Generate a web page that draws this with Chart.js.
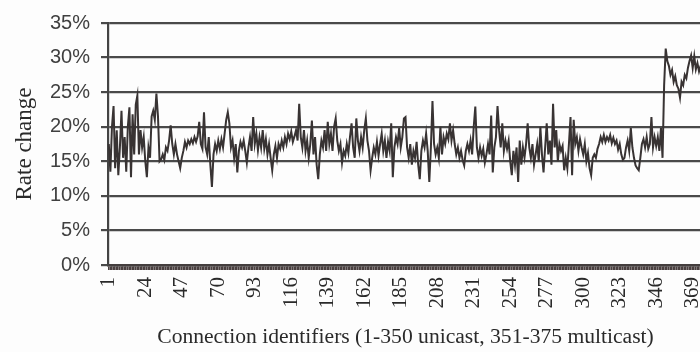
<!DOCTYPE html>
<html>
<head>
<meta charset="utf-8">
<script src="https://cdn.jsdelivr.net/npm/chart.js@4.4.1/dist/chart.umd.min.js"></script>
<style>
  html, body { margin: 0; padding: 0; width: 700px; height: 352px; overflow: hidden; background: #fdfdfd; }
  #wrap { position: relative; width: 706px; height: 352px; }
</style>
</head>
<body>
<div id="wrap"><canvas id="c"></canvas></div>
<script>
// Connection identifiers 1..375 (1-350 unicast, 351-375 multicast)
const categories = Array.from({ length: 375 }, (_, i) => String(i + 1));

// Rate change (%) per connection
const rateChange = [
  17.5, 13.5, 20, 23, 14, 19.5, 13, 17, 22.3, 15.5,
  18.5, 13.5, 20, 22.8, 12.7, 21.8, 16, 23.2, 24.5, 16,
  19.5, 17, 18.5, 15, 12.7, 17, 15.5, 21.5, 22.3, 21,
  24.8, 21.5, 15, 15.3, 16, 15.2, 17, 16.5, 18, 20.2,
  17.5, 16, 17.5, 16, 15, 14, 15.5, 16.5, 17.8, 17,
  18, 17.5, 18.2, 17.6, 18.5, 17.8, 18.6, 20.7, 17.5, 16.8,
  22.1, 17, 16, 18.5, 14.5, 11.3, 16, 17.5, 16.5, 18,
  16.8, 18.2, 17, 19, 21, 22.1, 20.5, 17, 18, 15.5,
  17.5, 13.4, 16.5, 17.8, 17, 18, 16.5, 14.8, 17, 18.5,
  16.5, 21.4, 17.5, 19, 16.6, 18.5, 17, 19.5, 16.8, 18.2,
  16, 17.5, 15.5, 13.7, 16, 17.2, 15.5, 17.5, 16.8, 18,
  17, 18.5, 17.5, 19, 18.2, 19.3, 17.8, 18.6, 19.5, 18,
  23.3, 18.5, 17, 19.5, 16.5, 18, 15.5, 17.5, 20.9, 16,
  18.5, 14.5, 12.4, 16, 18, 17, 19.5, 16.5, 20.7, 17.5,
  19, 16.5, 20, 21.2, 18, 16.5, 17.5, 14.8, 16.5, 15.8,
  17.5, 16.2, 18.5, 20.5, 17, 15.5, 21.2, 18, 16.5, 18.5,
  17, 19.5, 21.2, 18, 16.5, 13.7, 15.5, 17, 16, 17.8,
  15.8, 17.5, 19, 16.5, 18, 15.5, 17.8, 16.5, 20.5, 12.7,
  17, 18.5, 17.5, 19.8, 17, 18.5, 21.2, 21.4, 17, 15.5,
  17.5, 14.5, 16.5, 15.5, 17.8, 14.5, 12.4, 16.5, 18, 17,
  19, 16.5, 12, 17, 23.7, 17.5, 16, 17, 15.5, 20,
  16, 18.5, 17.5, 19, 18.2, 20.5, 18, 19.5, 17.5, 16,
  17, 15.5, 16.5, 15.2, 14.4, 16.5, 17.5, 16.5, 18, 16,
  20, 22.9, 17, 15.5, 17, 15.8, 16.8, 14.8, 16, 17.5,
  16, 21.6, 13.4, 17, 18.5, 23, 19.5, 17, 20.5, 16.5,
  18, 16.8, 18, 15, 13, 16.5, 14.5, 17, 12, 18,
  14.5, 17, 15.5, 17.5, 20.5, 17, 15.5, 17.5, 14.5, 16,
  17.5, 15, 20, 16, 13.4, 17, 20.5, 16, 18, 14.5,
  23.3, 17, 19.5, 15, 17.5, 16.5, 17.2, 13.7, 15.5, 14,
  17.5, 21.4, 13, 21, 17.5, 18.5, 16.5, 18.2, 17, 16,
  17.5, 15, 16.2, 14, 13, 15.5, 16, 15.5, 16.8, 17.5,
  18.5, 17.8, 18.8, 17.8, 18.5, 18, 18.8, 17.6, 18.4, 17.5,
  18, 16.7, 17.5, 16, 15.2, 15.5, 17, 18, 16.5, 19.8,
  17, 15.5, 14.4, 14, 13.7, 15.5, 17.5, 18.2, 17, 18.5,
  16.8, 17.5, 21.4, 17, 18.5, 17.2, 18.5, 16.5, 19.8, 15.5,
  26, 31.3, 29.5, 28.8, 27.5, 28.2, 26.5, 27.3, 26, 25.5,
  24.2, 26.5, 26, 27.5, 27, 28.5, 29.5, 30.3, 28.5, 30.2,
  28.3, 29.2, 28, 28.8, 28.2
];

// Labelled x ticks
const xTickLabels = ['1','24','47','70','93','116','139','162','185','208','231','254','277','300','323','346','369'];

// Y axis
const yMin = 0, yMax = 35, yStep = 5;

const xTitle = 'Connection identifiers (1-350 unicast, 351-375 multicast)';
const yTitle = 'Rate change';

const bgPlugin = {
  id: 'bg',
  beforeDraw(chart) {
    const ctx = chart.ctx;
    ctx.save();
    ctx.fillStyle = '#fdfdfd';
    ctx.fillRect(0, 0, chart.width, chart.height);
    ctx.restore();
  }
};

new Chart(document.getElementById('c'), {
  type: 'line',
  data: {
    labels: categories,
    datasets: [{
      data: rateChange,
      borderColor: '#383333',
      borderWidth: 2,
      pointRadius: 0,
      tension: 0,
      fill: false
    }]
  },
  options: {
    responsive: true,
    maintainAspectRatio: false,
    animation: false,
    devicePixelRatio: 1,
    layout: { padding: { top: 17, right: 3, left: 0, bottom: 0 } },
    plugins: { legend: { display: false }, tooltip: { enabled: false } },
    scales: {
      x: {
        type: 'category',
        offset: true,
        afterFit(scale) {
          scale.height = 87;
          scale.paddingLeft = 0;
          scale.paddingRight = 0;
        },
        grid: {
          display: true,
          drawOnChartArea: false,
          drawTicks: true,
          tickLength: 5,
          color: '#4a4040',
          lineWidth: 1.7
        },
        border: { display: true, color: '#443e3e', width: 2.5 },
        ticks: {
          autoSkip: false,
          maxRotation: 90,
          minRotation: 90,
          padding: 7,
          color: '#2a2a2a',
          font: { family: '"Liberation Serif", "Times New Roman", serif', size: 21 },
          callback(value, index) {
            const lab = categories[index];
            return xTickLabels.includes(lab) ? lab : '';
          }
        },
        title: {
          display: true,
          text: xTitle,
          color: '#2a2a2a',
          font: { family: '"Liberation Serif", "Times New Roman", serif', size: 21.6 },
          padding: { top: 0, bottom: 2 }
        }
      },
      y: {
        min: yMin,
        max: yMax,
        afterFit(scale) { scale.width = 108; },
        grid: {
          color: '#4a4a4a',
          lineWidth: 2.2,
          drawTicks: true,
          tickLength: 7
        },
        border: { display: true, color: '#444444', width: 2.2 },
        ticks: {
          stepSize: yStep,
          padding: 11,
          color: '#404040',
          font: { family: '"Liberation Sans", Arial, sans-serif', size: 20 },
          callback(v) { return v + '%'; }
        },
        title: {
          display: true,
          text: yTitle,
          color: '#2a2a2a',
          font: { family: '"Liberation Serif", "Times New Roman", serif', size: 23 },
          padding: { top: 11, bottom: 0 }
        }
      }
    }
  },
  plugins: [bgPlugin]
});
</script>
</body>
</html>
